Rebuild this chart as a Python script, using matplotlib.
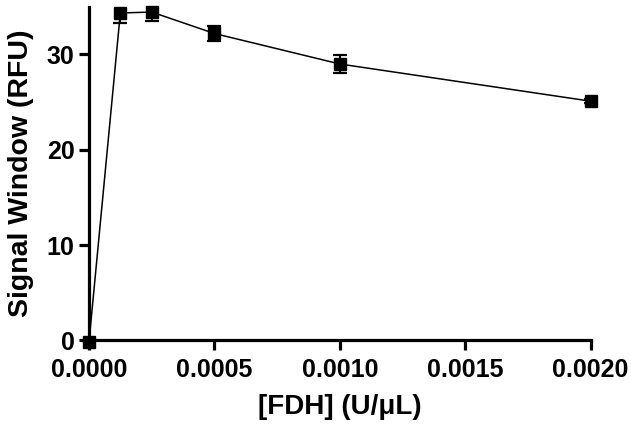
import matplotlib
matplotlib.use("Agg")
import matplotlib.pyplot as plt

# FDH concentration (U/uL) vs signal window (RFU), mean +/- error
fdh_conc = [0.0, 0.000125, 0.00025, 0.0005, 0.001, 0.002]
signal = [-0.2, 34.35, 34.45, 32.2, 29.0, 25.1]
signal_err = [0.2, 1.05, 0.9, 0.75, 0.9, 0.2]

x_ticks = [0.0, 0.0005, 0.0010, 0.0015, 0.0020]
x_tick_labels = ["0.0000", "0.0005", "0.0010", "0.0015", "0.0020"]
y_ticks = [0, 10, 20, 30]

plt.rcParams["font.family"] = ["Liberation Sans", "DejaVu Sans"]
plt.rcParams["font.weight"] = "bold"

fig = plt.figure(figsize=(6.31, 4.25), dpi=100)
ax = fig.add_axes([0.141, 0.199, 0.795, 0.785])

# error bars are clipped at the plot area, markers and line are not
ax.errorbar(fdh_conc, signal, yerr=signal_err, fmt="none", ecolor="black",
            capsize=5, capthick=1.6, elinewidth=1.5, zorder=2)
ax.plot(fdh_conc, signal, color="black", lw=1.1, marker="s", ms=9.3,
        clip_on=False, zorder=3)

ax.set_xlim(0, 0.002)
ax.set_ylim(0, 35)
ax.set_xticks(x_ticks)
ax.set_xticklabels(x_tick_labels)
ax.set_yticks(y_ticks)

for side in ("top", "right"):
    ax.spines[side].set_visible(False)
for side in ("left", "bottom"):
    ax.spines[side].set_linewidth(2.3)

ax.tick_params(axis="both", width=2.3, length=7.5, labelsize=18, direction="out")
ax.tick_params(axis="x", pad=5)
ax.tick_params(axis="y", pad=3)
for lab in ax.get_xticklabels() + ax.get_yticklabels():
    lab.set_fontweight("bold")

ax.set_xlabel("[FDH] (U/\u03bcL)", fontsize=20, fontweight="bold", labelpad=9)
ax.set_ylabel("Signal Window (RFU)", fontsize=20.5, fontweight="bold", labelpad=9)

fig.savefig("out.png", dpi=100)
